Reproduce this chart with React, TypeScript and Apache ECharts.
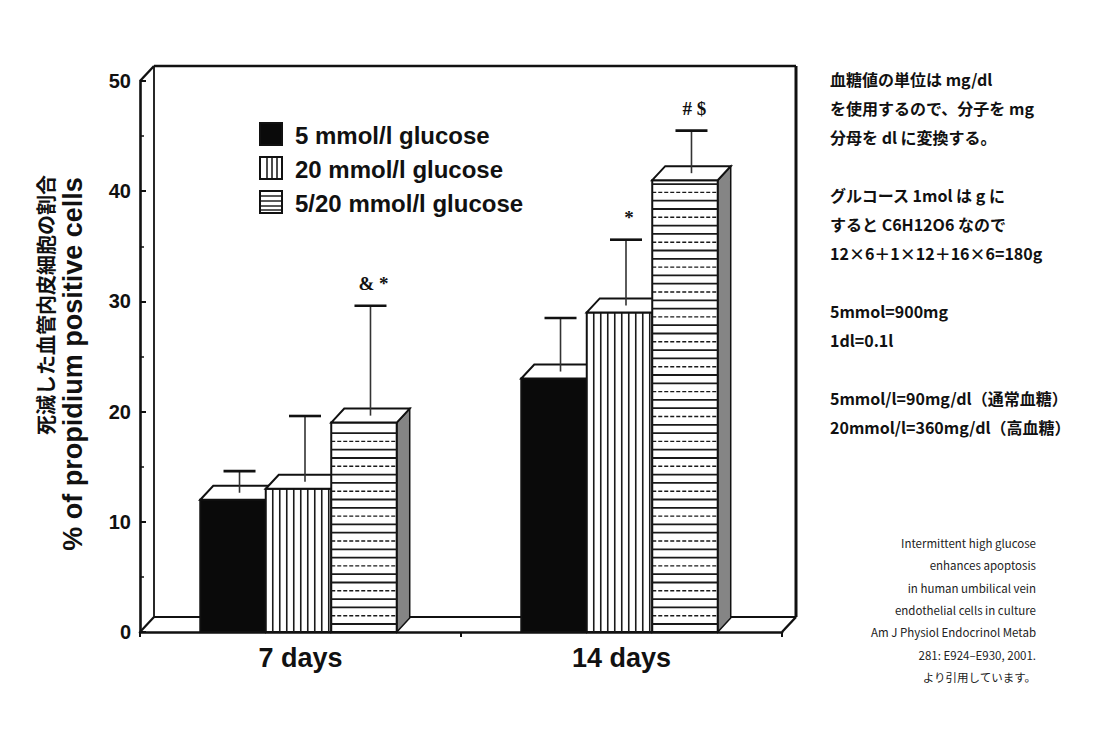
import React, { useEffect, useRef } from "react";
import * as echarts from "echarts";

const categories = ["7 days", "14 days"];
const seriesNames = ["5 mmol/l glucose", "20 mmol/l glucose", "5/20 mmol/l glucose"];
const means5 = [12, 23];
const means20 = [13, 29];
const means520 = [19, 41];
const sd5 = [2.6, 5.5];
const sd20 = [6.6, 6.6];
const sd520 = [10.6, 4.5];
const marks5 = ["", ""];
const marks20 = ["", "*"];
const marks520 = ["& *", "# $"];
const yMin = 0;
const yMax = 50;
const yStep = 10;

const yTitleEn = "% of propidium positive cells";
const yTitleJa = "死滅した血管内皮細胞の割合";

const noteLines = [
  "血糖値の単位は mg/dl",
  "を使用するので、分子を mg",
  "分母を dl に変換する。",
  "",
  "グルコース 1mol は g に",
  "すると C6H12O6 なので",
  "12×6＋1×12＋16×6=180g",
  "",
  "5mmol=900mg",
  "1dl=0.1l",
  "",
  "5mmol/l=90mg/dl（通常血糖）",
  "20mmol/l=360mg/dl（高血糖）",
];

const citationLines = [
  "Intermittent high glucose",
  "enhances apoptosis",
  "in human umbilical vein",
  "endothelial cells in culture",
  "Am J Physiol Endocrinol Metab",
  "281: E924–E930, 2001.",
  "より引用しています。",
];

const INK = "#111111";
const DX = 13;
const DY = 14;
const FX = 14;
const FY = 15;

function makeBarRender(sIdx: number, kind: string, marks: string[]) {
  return (params: any, api: any) => {
    const cat = api.value(0);
    const v = api.value(1);
    const sd = api.value(2);
    const base = api.coord([cat, 0]);
    const top = api.coord([cat, v]);
    const err = api.coord([cat, v + sd]);
    const band = api.size([1, 0])[0];
    const bw = band * 0.204;
    const x = base[0] - 1.5 * bw - 2 + sIdx * bw;
    const y0 = base[1];
    const yT = top[1];
    const yE = err[1];
    const children: any[] = [];
    // side face
    children.push({
      type: "polygon",
      shape: { points: [[x + bw, yT], [x + bw + DX, yT - DY], [x + bw + DX, y0 - DY], [x + bw, y0]] },
      style: { fill: "#858585", stroke: INK, lineWidth: 1.5 },
    });
    // front face
    children.push({
      type: "rect",
      shape: { x, y: yT, width: bw, height: y0 - yT },
      style: { fill: kind === "solid" ? "#0a0a0a" : "#ffffff", stroke: INK, lineWidth: 2 },
    });
    if (kind === "vert") {
      for (let lx = x + 7; lx < x + bw - 2; lx += 7) {
        children.push({
          type: "line",
          shape: { x1: lx, y1: yT, x2: lx, y2: y0 },
          style: { stroke: "#1a1a1a", lineWidth: 1.6 },
        });
      }
    }
    if (kind === "horiz") {
      let k = 0;
      for (let ly = y0 - 8; ly > yT + 3; ly -= 8.3) {
        children.push({
          type: "line",
          shape: { x1: x, y1: ly, x2: x + bw, y2: ly },
          style: {
            stroke: "#1a1a1a",
            lineWidth: k % 3 === 1 ? 1.4 : 1.8,
            lineDash: k % 3 === 1 ? [4, 2] : null,
          },
        });
        k++;
      }
    }
    // top face
    children.push({
      type: "polygon",
      shape: { points: [[x, yT], [x + DX, yT - DY], [x + bw + DX, yT - DY], [x + bw, yT]] },
      style: { fill: "#ffffff", stroke: INK, lineWidth: 2 },
    });
    // error bar
    const xe = x + bw / 2 + DX / 2;
    children.push({
      type: "line",
      z2: 10,
      shape: { x1: xe, y1: yT - DY / 2, x2: xe, y2: yE },
      style: { stroke: "#333333", lineWidth: 1.6 },
    });
    children.push({
      type: "line",
      z2: 10,
      shape: { x1: xe - 16, y1: yE, x2: xe + 16, y2: yE },
      style: { stroke: INK, lineWidth: 2.6 },
    });
    const m = marks[params.dataIndex];
    if (m) {
      children.push({
        type: "text",
        z2: 10,
        style: {
          text: m,
          x: xe + 3,
          y: yE - 13,
          fill: INK,
          font: 'bold 19px "Liberation Serif"',
          align: "center",
          verticalAlign: "bottom",
          textAlign: "center",
          textVerticalAlign: "bottom",
        },
      });
    }
    return { type: "group", children };
  };
}

function frameRender(params: any, api: any) {
  const band = api.size([1, 0])[0];
  const c0 = api.coord([0, yMin]);
  const left = c0[0] - band / 2;
  const right = left + band * categories.length;
  const y0 = c0[1];
  const yTop = api.coord([0, yMax])[1];
  const L = (x1: number, y1: number, x2: number, y2: number, lw: number) => ({
    type: "line",
    shape: { x1, y1, x2, y2 },
    style: { stroke: INK, lineWidth: lw },
  });
  return {
    type: "group",
    children: [
      L(left + FX, y0 - FY, left + FX, yTop - FY, 1.8),
      L(left + FX, yTop - FY, right + FX, yTop - FY, 2.6),
      L(right + FX, yTop - FY, right + FX, y0 - FY, 3),
      L(left + FX, y0 - FY, right + FX, y0 - FY, 2.2),
      L(left, y0, left + FX, y0 - FY, 2.2),
      L(right, y0, right + FX, y0 - FY, 2.4),
      L(left, yTop, left + FX, yTop - FY, 2.4),
    ],
  };
}

function legendGraphic() {
  const rows = [123, 157, 191];
  const children: any[] = [];
  rows.forEach((ry, i) => {
    const ix = 260;
    const w = 22;
    const h = 22;
    children.push({
      type: "rect",
      shape: { x: ix, y: ry, width: w, height: h },
      style: { fill: i === 0 ? "#0a0a0a" : "#ffffff", stroke: INK, lineWidth: 2 },
    });
    if (i === 1) {
      [7, 12, 17].forEach((o) =>
        children.push({
          type: "line",
          shape: { x1: ix + o, y1: ry, x2: ix + o, y2: ry + h },
          style: { stroke: INK, lineWidth: 1.5 },
        })
      );
    }
    if (i === 2) {
      [5, 10, 15, 19].forEach((o) =>
        children.push({
          type: "line",
          shape: { x1: ix, y1: ry + o, x2: ix + w, y2: ry + o },
          style: { stroke: INK, lineWidth: 1.4 },
        })
      );
    }
    children.push({
      type: "text",
      style: {
        text: seriesNames[i],
        x: 295,
        y: ry + h / 2 + 1,
        fill: INK,
        font: 'bold 24px "Liberation Sans"',
        align: "left",
        verticalAlign: "middle",
        textAlign: "left",
        textVerticalAlign: "middle",
      },
    });
  });
  return { type: "group", children };
}

export default function App() {
  const ref = useRef<HTMLDivElement>(null);
  useEffect(() => {
    if (!ref.current) return;
    const chart = echarts.init(ref.current, null, { renderer: "svg" });
    const toData = (means: number[], sds: number[]) => means.map((m, i) => [i, m, sds[i]]);
    const option: any = {
      animation: false,
      backgroundColor: "#ffffff",
      grid: { left: 140, right: 318, top: 81, bottom: 101, containLabel: false },
      xAxis: {
        type: "category",
        data: categories,
        boundaryGap: true,
        axisLine: { show: true, lineStyle: { color: INK, width: 2.6 } },
        axisTick: { show: true, length: 5, lineStyle: { color: INK, width: 2 } },
        axisLabel: {
          color: INK,
          fontFamily: "Liberation Sans",
          fontWeight: "bold",
          fontSize: 27,
          margin: 12,
        },
        splitLine: { show: false },
      },
      yAxis: {
        type: "value",
        min: yMin,
        max: yMax,
        interval: yStep,
        axisLine: { show: true, lineStyle: { color: INK, width: 2.6 } },
        axisTick: { show: true, inside: true, length: 6, lineStyle: { color: INK, width: 2 } },
        minorTick: { show: true, splitNumber: 2, length: 4, lineStyle: { color: INK, width: 1.5 } },
        axisLabel: {
          color: INK,
          fontFamily: "Liberation Sans",
          fontWeight: "bold",
          fontSize: 20,
          margin: 9,
        },
        splitLine: { show: false },
      },
      series: [
        {
          type: "custom",
          name: "frame",
          z: 1,
          clip: false,
          silent: true,
          data: [[0, 0]],
          encode: { x: 0, y: 1 },
          renderItem: frameRender,
        },
        {
          type: "custom",
          name: seriesNames[0],
          z: 2,
          clip: false,
          data: toData(means5, sd5),
          encode: { x: 0, y: 1 },
          renderItem: makeBarRender(0, "solid", marks5),
        },
        {
          type: "custom",
          name: seriesNames[1],
          z: 2,
          clip: false,
          data: toData(means20, sd20),
          encode: { x: 0, y: 1 },
          renderItem: makeBarRender(1, "vert", marks20),
        },
        {
          type: "custom",
          name: seriesNames[2],
          z: 2,
          clip: false,
          data: toData(means520, sd520),
          encode: { x: 0, y: 1 },
          renderItem: makeBarRender(2, "horiz", marks520),
        },
      ],
      graphic: [
        legendGraphic(),
        {
          type: "text",
          x: 45,
          y: 305,
          rotation: Math.PI / 2,
          style: {
            text: yTitleJa,
            fill: INK,
            font: 'bold 20px "Noto Sans CJK JP"',
            align: "center",
            verticalAlign: "middle",
            textAlign: "center",
            textVerticalAlign: "middle",
          },
        },
        {
          type: "text",
          x: 73,
          y: 364,
          rotation: Math.PI / 2,
          style: {
            text: yTitleEn,
            fill: INK,
            font: 'bold 27px "Liberation Sans"',
            align: "center",
            verticalAlign: "middle",
            textAlign: "center",
            textVerticalAlign: "middle",
          },
        },
        {
          type: "text",
          x: 830,
          y: 64.5,
          style: {
            text: noteLines.join("\n"),
            fill: INK,
            font: 'bold 16px "Noto Sans CJK JP"',
            lineHeight: 29,
            align: "left",
            verticalAlign: "top",
            textAlign: "left",
            textVerticalAlign: "top",
          },
        },
        {
          type: "text",
          x: 1036,
          y: 532,
          style: {
            text: citationLines.join("\n"),
            fill: "#222222",
            font: '11.5px "Noto Sans CJK JP"',
            lineHeight: 22.3,
            align: "right",
            verticalAlign: "top",
            textAlign: "right",
            textVerticalAlign: "top",
          },
        },
      ],
    };
    chart.setOption(option);
    return () => chart.dispose();
  }, []);
  return <div ref={ref} style={{ width: 1100, height: 733, margin: -8 }} />;
}
